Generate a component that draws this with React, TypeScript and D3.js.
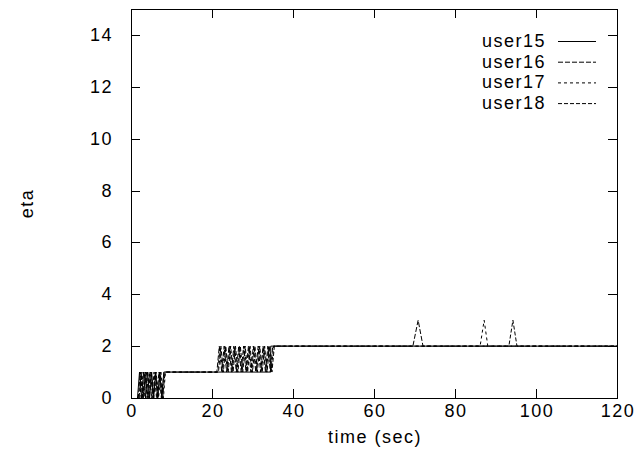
import React from "react";
import * as d3 from "d3";

const xTicks = [0, 20, 40, 60, 80, 100, 120];
const yTicks = [0, 2, 4, 6, 8, 10, 12, 14];
const seriesNames = ["user15", "user16", "user17", "user18"];
const dashes = ["none", "5,2", "3,3", "4,2"];

const user15Time = [1.6, 2.1, 2.6, 3.1, 3.6, 4.1, 4.6, 5.1, 5.6, 6.1, 6.6, 7.1, 7.6, 8.1, 34.5, 34.5, 120];
const user15Eta = [0, 1, 0, 1, 0, 1, 0, 1, 0, 1, 0, 1, 0, 1, 1, 2, 2];

const user16Time = [2.0, 2.5, 3.0, 3.6, 4.2, 4.8, 5.4, 6.0, 6.6, 7.2, 7.8, 8.4,
  21.2, 21.8, 22.4, 23.0, 23.6, 24.2, 24.8, 25.4, 26.0, 26.6, 27.2, 27.8, 28.4, 29.0, 29.6, 30.2, 30.8, 31.4, 32.0, 32.6, 33.2, 33.8, 34.4, 35.0,
  69.6, 70.9, 72.1, 120];
const user16Eta = [0, 1, 0, 1, 0, 1, 0, 1, 0, 1, 0, 1,
  1, 2, 1, 2, 1, 2, 1, 2, 1, 2, 1, 2, 1, 2, 1, 2, 1, 2, 1, 2, 1, 2, 1, 2,
  2, 3, 2, 2];

const user17Time = [2.2, 2.7, 3.2, 3.8, 4.4, 5.0, 5.6, 6.2, 6.8, 7.4, 8.0, 8.5,
  21.4, 22.0, 22.6, 23.2, 23.8, 24.4, 25.0, 25.6, 26.2, 26.8, 27.4, 28.0, 28.6, 29.2, 29.8, 30.4, 31.0, 31.6, 32.2, 32.8, 33.4, 34.0, 34.6, 35.2,
  86.2, 87.2, 88.1, 120];
const user17Eta = [0, 1, 0, 1, 0, 1, 0, 1, 0, 1, 0, 1,
  1, 2, 1, 2, 1, 2, 1, 2, 1, 2, 1, 2, 1, 2, 1, 2, 1, 2, 1, 2, 1, 2, 1, 2,
  2, 3, 2, 2];

const user18Time = [1.8, 2.3, 2.9, 3.4, 4.0, 4.5, 5.1, 5.7, 6.3, 6.9, 7.5, 8.2,
  21.6, 22.2, 22.8, 23.4, 24.0, 24.6, 25.2, 25.8, 26.4, 27.0, 27.6, 28.2, 28.8, 29.4, 30.0, 30.6, 31.2, 31.8, 32.4, 33.0, 33.6, 34.2, 34.8, 35.4,
  93.3, 94.3, 95.3, 120];
const user18Eta = [0, 1, 0, 1, 0, 1, 0, 1, 0, 1, 0, 1,
  1, 2, 1, 2, 1, 2, 1, 2, 1, 2, 1, 2, 1, 2, 1, 2, 1, 2, 1, 2, 1, 2, 1, 2,
  2, 3, 2, 2];

const seriesTimes = [user15Time, user16Time, user17Time, user18Time];
const seriesEtas = [user15Eta, user16Eta, user17Eta, user18Eta];

const W = 641, H = 455;
const L = 131, R = 617, T = 9, B = 398;
const font = "'Liberation Sans', Arial, Helvetica, sans-serif";

export default function App() {
  const x = d3.scaleLinear().domain([0, 120]).range([L, R]);
  const y = d3.scaleLinear().domain([0, 15]).range([B, T]);
  const line = d3.line<[number, number]>().x(d => x(d[0])).y(d => y(d[1]));
  const textStyle = { fontFamily: font, fontSize: 18, letterSpacing: "1.5px" } as const;

  return (
    <svg width={W} height={H} style={{ position: "absolute", left: 0, top: 0, background: "#fff" }}>
      <rect x={0} y={0} width={W} height={H} fill="#fff" />
      {seriesTimes.map((ts, i) => (
        <path key={i} d={line(ts.map((t, j) => [t, seriesEtas[i][j]]) as [number, number][]) || ""}
          fill="none" stroke="#000" strokeWidth={1} strokeDasharray={dashes[i]} />
      ))}
      <rect x={L + 0.5} y={T + 0.5} width={R - L} height={B - T} fill="none" stroke="#000" strokeWidth={1} />
      {xTicks.map(t => (
        <g key={"x" + t}>
          <line x1={Math.round(x(t)) + 0.5} x2={Math.round(x(t)) + 0.5} y1={B} y2={B - 9} stroke="#000" />
          <line x1={Math.round(x(t)) + 0.5} x2={Math.round(x(t)) + 0.5} y1={T} y2={T + 9} stroke="#000" />
          <text x={x(t) + 1} y={417} textAnchor="middle" style={textStyle}>{t}</text>
        </g>
      ))}
      {yTicks.map(t => (
        <g key={"y" + t}>
          <line x1={L} x2={L + 9} y1={Math.round(y(t)) + 0.5} y2={Math.round(y(t)) + 0.5} stroke="#000" />
          <line x1={R} x2={R - 9} y1={Math.round(y(t)) + 0.5} y2={Math.round(y(t)) + 0.5} stroke="#000" />
          <text x={113} y={y(t) + 6} textAnchor="end" style={textStyle}>{t}</text>
        </g>
      ))}
      <text x={375} y={443} textAnchor="middle" style={textStyle}>time (sec)</text>
      <text transform={`translate(33,${(T + B) / 2}) rotate(-90)`} textAnchor="middle" style={textStyle}>eta</text>
      {seriesNames.map((n, i) => (
        <g key={n}>
          <text x={546} y={47 + i * 20.7} textAnchor="end" style={textStyle}>{n}</text>
          <line x1={558} x2={596} y1={41.5 + i * 20.7} y2={41.5 + i * 20.7} stroke="#000" strokeDasharray={dashes[i]} />
        </g>
      ))}
    </svg>
  );
}
